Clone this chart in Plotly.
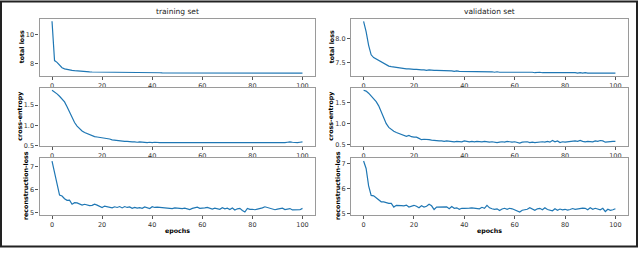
import plotly.graph_objects as go

epochs = list(range(101))

train_total = [10.9, 8.22, 8.1, 7.88, 7.73, 7.66, 7.61, 7.58, 7.55, 7.53,
               7.51, 7.49, 7.48, 7.47, 7.46, 7.45, 7.44, 7.44, 7.43, 7.43,
               7.42, 7.42, 7.42, 7.41, 7.41, 7.41, 7.41, 7.40, 7.40, 7.40,
               7.40, 7.40, 7.40, 7.39, 7.39, 7.39, 7.39, 7.39, 7.39, 7.39,
               7.39, 7.39, 7.39, 7.39, 7.38, 7.38, 7.38, 7.38, 7.38, 7.38,
               7.38, 7.38, 7.38, 7.38, 7.38, 7.38, 7.38, 7.38, 7.38, 7.38,
               7.38, 7.38, 7.38, 7.37, 7.37, 7.37, 7.37, 7.37, 7.37, 7.37,
               7.37, 7.37, 7.37, 7.37, 7.37, 7.37, 7.37, 7.37, 7.37, 7.37,
               7.37, 7.37, 7.37, 7.37, 7.37, 7.37, 7.37, 7.36, 7.36, 7.36,
               7.36, 7.36, 7.36, 7.36, 7.36, 7.36, 7.36, 7.36, 7.36, 7.36,
               7.36]

val_total = [8.37, 8.15, 7.86, 7.66, 7.60, 7.57, 7.54, 7.50, 7.47, 7.44,
             7.42, 7.41, 7.40, 7.39, 7.38, 7.37, 7.37, 7.36, 7.36, 7.35,
             7.35, 7.35, 7.34, 7.34, 7.34, 7.33, 7.34, 7.33, 7.33, 7.33,
             7.33, 7.32, 7.32, 7.32, 7.32, 7.32, 7.31, 7.32, 7.31, 7.31,
             7.31, 7.31, 7.31, 7.30, 7.31, 7.30, 7.30, 7.30, 7.30, 7.30,
             7.30, 7.30, 7.29, 7.30, 7.29, 7.29, 7.29, 7.30, 7.29, 7.29,
             7.29, 7.29, 7.29, 7.29, 7.29, 7.29, 7.29, 7.29, 7.28, 7.29,
             7.29, 7.28, 7.28, 7.29, 7.28, 7.28, 7.28, 7.28, 7.28, 7.28,
             7.29, 7.28, 7.28, 7.28, 7.28, 7.27, 7.28, 7.27, 7.28, 7.27,
             7.27, 7.27, 7.28, 7.27, 7.27, 7.27, 7.27, 7.27, 7.27, 7.27,
             7.27]

train_ce = [1.87, 1.83, 1.78, 1.72, 1.66, 1.58, 1.46, 1.32, 1.18, 1.07,
            0.98, 0.91, 0.86, 0.82, 0.79, 0.77, 0.74, 0.72, 0.71, 0.70,
            0.69, 0.69, 0.67, 0.66, 0.64, 0.63, 0.62, 0.62, 0.61, 0.60,
            0.60, 0.59, 0.59, 0.59, 0.58, 0.59, 0.58, 0.58, 0.57, 0.58,
            0.57, 0.58, 0.57, 0.57, 0.57, 0.57, 0.56, 0.57, 0.56, 0.57,
            0.56, 0.57, 0.56, 0.56, 0.57, 0.56, 0.56, 0.57, 0.56, 0.56,
            0.56, 0.56, 0.56, 0.56, 0.57, 0.56, 0.56, 0.56, 0.56, 0.57,
            0.56, 0.56, 0.56, 0.57, 0.56, 0.56, 0.56, 0.56, 0.57, 0.56,
            0.56, 0.56, 0.56, 0.57, 0.56, 0.56, 0.56, 0.56, 0.56, 0.56,
            0.57, 0.56, 0.56, 0.57, 0.58, 0.59, 0.58, 0.57, 0.57, 0.58,
            0.59]

val_ce = [1.79, 1.77, 1.72, 1.66, 1.60, 1.52, 1.42, 1.28, 1.12, 1.00,
          0.91, 0.86, 0.82, 0.79, 0.77, 0.75, 0.72, 0.70, 0.72, 0.69,
          0.68, 0.68, 0.65, 0.62, 0.63, 0.63, 0.62, 0.61, 0.60, 0.60,
          0.59, 0.59, 0.58, 0.59, 0.58, 0.58, 0.57, 0.58, 0.58, 0.57,
          0.59, 0.58, 0.57, 0.58, 0.57, 0.58, 0.57, 0.57, 0.58, 0.57,
          0.56, 0.57, 0.56, 0.55, 0.56, 0.57, 0.56, 0.58, 0.57, 0.56,
          0.57, 0.55, 0.54, 0.56, 0.56, 0.57, 0.55, 0.56, 0.55, 0.56,
          0.56, 0.57, 0.56, 0.58, 0.56, 0.60, 0.57, 0.59, 0.55, 0.57,
          0.56, 0.57, 0.57, 0.58, 0.59, 0.58, 0.60, 0.58, 0.57, 0.58,
          0.58, 0.57, 0.59, 0.58, 0.60, 0.59, 0.56, 0.57, 0.58, 0.58,
          0.58]

train_rec = [7.25, 6.70, 6.20, 5.76, 5.72, 5.60, 5.53, 5.54, 5.36, 5.43,
             5.42, 5.38, 5.32, 5.36, 5.32, 5.30, 5.31, 5.36, 5.32, 5.26,
             5.22, 5.28, 5.25, 5.23, 5.20, 5.25, 5.22, 5.26, 5.20, 5.26,
             5.22, 5.24, 5.18, 5.22, 5.19, 5.21, 5.18, 5.24, 5.19, 5.17,
             5.25, 5.22, 5.23, 5.22, 5.21, 5.19, 5.16, 5.18, 5.17, 5.20,
             5.18, 5.19, 5.17, 5.19, 5.15, 5.13, 5.18, 5.21, 5.23, 5.18,
             5.18, 5.20, 5.22, 5.17, 5.15, 5.19, 5.17, 5.14, 5.21, 5.16,
             5.19, 5.13, 5.20, 5.11, 5.16, 5.18, 5.09, 5.02, 5.18, 5.14,
             5.14, 5.12, 5.15, 5.17, 5.20, 5.25, 5.22, 5.19, 5.14, 5.12,
             5.15, 5.17, 5.19, 5.13, 5.14, 5.17, 5.11, 5.12, 5.10, 5.12,
             5.18]

val_rec = [7.10, 6.80, 6.10, 5.72, 5.70, 5.62, 5.52, 5.46, 5.46, 5.42,
           5.40, 5.40, 5.25, 5.32, 5.30, 5.31, 5.30, 5.33, 5.25, 5.28,
           5.32, 5.28, 5.22, 5.30, 5.25, 5.28, 5.36, 5.30, 5.15, 5.25,
           5.25, 5.25, 5.25, 5.26, 5.18, 5.27, 5.20, 5.22, 5.16, 5.20,
           5.20, 5.22, 5.21, 5.22, 5.20, 5.21, 5.18, 5.24, 5.20, 5.32,
           5.22, 5.18, 5.16, 5.18, 5.11, 5.17, 5.20, 5.16, 5.20, 5.18,
           5.14, 5.10, 5.05, 5.12, 5.14, 5.16, 5.22, 5.16, 5.12, 5.18,
           5.20, 5.14, 5.22, 5.15, 5.12, 5.10, 5.18, 5.12, 5.17, 5.14,
           5.16, 5.13, 5.15, 5.19, 5.16, 5.18, 5.20, 5.21, 5.20, 5.14,
           5.22, 5.16, 5.20, 5.18, 5.14, 5.20, 5.07, 5.16, 5.12, 5.14,
           5.18]

panel_titles = ["training set", "validation set"]
y_titles = ["total loss", "cross-entropy", "reconstruction-loss"]
x_ticks = [0, 20, 40, 60, 80, 100]
y_ticks = [[8, 10], [7.5, 8.0], [0.5, 1.0, 1.5], [0.5, 1.0, 1.5], [5, 6, 7], [5, 6, 7]]
y_tick_fmt = [".0f", ".1f", ".1f", ".1f", ".0f", ".0f"]

W, H = 640, 255
series = [train_total, val_total, train_ce, val_ce, train_rec, val_rec]

x_dom = [[39.5 / W, 315 / W], [351 / W, 628 / W]]
rows_px = [(19, 77), (89, 148), (161, 218)]
y_dom = [[1 - b / H, 1 - t / H] for t, b in rows_px]

line_color = "#1f77b4"
spine = "#9a9a9a"
tick_font = dict(family="DejaVu Sans", size=6.5, color="#333333")
lab_font = dict(family="DejaVu Sans", size=6.3, color="#000000")

fig = go.Figure()
layout = dict(width=W, height=H, margin=dict(l=0, r=0, t=0, b=0),
              paper_bgcolor="white", plot_bgcolor="white", showlegend=False)

annotations = []
for i, ys in enumerate(series):
    r, c = divmod(i, 2)
    k = i + 1
    xa = "x" if k == 1 else f"x{k}"
    ya = "y" if k == 1 else f"y{k}"
    fig.add_trace(go.Scatter(x=epochs, y=ys, mode="lines",
                             line=dict(color=line_color, width=1.2),
                             xaxis=xa, yaxis=ya, hoverinfo="skip"))
    lo, hi = min(ys), max(ys)
    pad = (hi - lo) * 0.05
    layout["xaxis" if k == 1 else f"xaxis{k}"] = dict(
        domain=x_dom[c], anchor=ya, range=[-5, 105], tickvals=x_ticks,
        showgrid=False, zeroline=False, showline=True, mirror=True,
        linecolor=spine, linewidth=1.3, ticks="outside", ticklen=3,
        tickcolor="#555555", tickfont=tick_font)
    layout["yaxis" if k == 1 else f"yaxis{k}"] = dict(
        domain=y_dom[r], anchor=xa, range=[lo - pad, hi + pad],
        tickvals=y_ticks[i], tickformat=y_tick_fmt[i],
        showgrid=False, zeroline=False, showline=True, mirror=True,
        linecolor=spine, linewidth=1.3, ticks="outside", ticklen=3,
        tickcolor="#555555", tickfont=tick_font)
    yc = (y_dom[r][0] + y_dom[r][1]) / 2
    if r == 2:
        yc = 1 - 189 / H
    xpix = [21, 20, 25][r] if c == 0 else [331, 331, 337][r]
    annotations.append(dict(text=f"<b>{y_titles[r]}</b>", x=xpix / W, y=yc,
                            xref="paper", yref="paper", textangle=-90,
                            showarrow=False, font=lab_font,
                            xanchor="center", yanchor="middle"))

for c in range(2):
    xc = (x_dom[c][0] + x_dom[c][1]) / 2
    annotations.append(dict(text=panel_titles[c], x=xc, y=1 - 12 / H,
                            xref="paper", yref="paper", showarrow=False,
                            font=dict(family="DejaVu Sans", size=7.5, color="#222222"),
                            xanchor="center", yanchor="middle"))
    annotations.append(dict(text="<b>epochs</b>", x=xc, y=1 - 235 / H,
                            xref="paper", yref="paper", showarrow=False,
                            font=lab_font, xanchor="center", yanchor="middle"))

layout["annotations"] = annotations
layout["shapes"] = [dict(type="rect", xref="paper", yref="paper",
                         x0=1 / W, x1=637 / W, y0=1 - 250.5 / H, y1=1 - 1.5 / H,
                         line=dict(color="#222222", width=2), fillcolor="rgba(0,0,0,0)")]
fig.update_layout(**layout)
fig.write_html("out.html", config={"displayModeBar": False},
               post_script="document.body.style.margin='0';document.body.style.padding='0';")
